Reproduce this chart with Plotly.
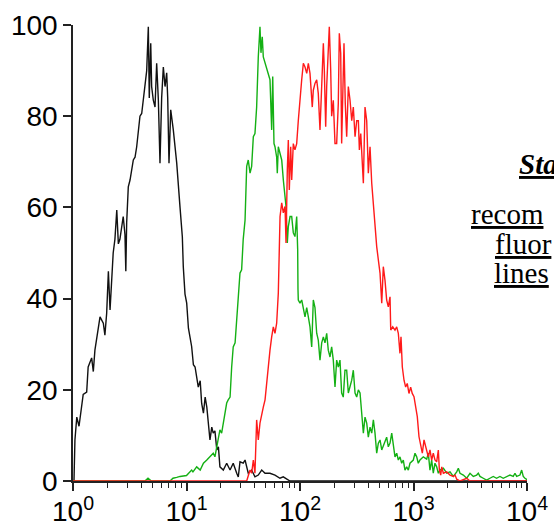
import plotly.graph_objects as go

# ---------------- data ----------------
black_x = [1.0, 1.02, 1.04, 1.08, 1.13, 1.19, 1.23, 1.32, 1.36, 1.46, 1.51, 1.56, 1.62, 1.73, 1.85,
           1.91, 1.98, 2.05, 2.12, 2.19, 2.26, 2.34, 2.43, 2.51, 2.59, 2.77, 2.87, 2.92, 2.97, 3.07,
           3.18, 3.40, 3.52, 3.64, 3.89, 4.03, 4.16, 4.31, 4.46, 4.61, 4.70, 4.84, 4.93, 5.10, 5.28,
           5.46, 5.65, 5.84, 6.04, 6.25, 6.47, 6.69, 6.83, 7.01, 7.26, 7.65, 8.20, 8.77, 9.19, 9.37,
           9.70, 10.04, 10.4, 11.1, 11.5, 11.9, 12.3, 12.7, 13.2, 13.6, 14.1, 14.6, 15.1, 15.6, 16.1,
           16.7, 17.2, 17.8, 18.5, 19.1, 19.7, 21.1, 22.6, 24.2, 25.8, 27.7, 28.6, 29.6, 31.6, 32.8,
           33.9, 35.0, 37.5, 40.1, 42.9, 46.0, 49.2, 54.4, 60.2, 66.6, 71.2, 76.3, 81.6, 10000]
black_y = [0, 0, 9, 14, 12, 17, 19, 19.5, 25, 27, 24, 28.7, 31.6, 36, 34.6,
           32, 36.8, 46, 37.5, 43, 50, 53, 59.4, 52, 53, 58, 54, 46, 56.6, 64.5,
           66, 70.4, 71, 73.3, 80, 80.6, 83.5, 88, 90, 99.6, 84, 96, 86.5, 83.5, 82,
           91.6, 83.5, 69.7, 84, 90.8, 86.5, 89.5, 84, 69.7, 81.4, 77, 69.7, 60, 53.5, 47,
           41, 39, 33.5, 29.5, 25.5, 25, 22.8, 20.6, 22, 17, 14.9, 18.4, 16.2, 11.8, 9,
           11.8, 10.5, 11, 6.8, 7.5, 3.1, 2.4, 3.9, 2.4, 3.9, 1.7, 0.9, 4.2, 3.9, 4.6,
           3.1, 1.7, 2.4, 0.9, 1.3, 2.4, 1.7, 1.7, 1.3, 0.6, 0.9, 0.4, 0, 0]

green_x = [1.0, 4.3, 4.58, 4.9, 7.16, 7.60, 8.20, 8.77, 10.0, 11.1, 11.4, 12.3, 13.2, 14.1, 15.1,
           16.1, 17.2, 17.8, 18.5, 19.1, 19.7, 20.4, 21.1, 22.6, 23.3, 24.2, 25.0, 25.8, 26.8, 27.7,
           28.6, 29.6, 30.6, 31.6, 32.8, 33.9, 35.0, 36.3, 37.5, 38.8, 40.1, 41.5, 42.9, 44.4, 45.3,
           46.5, 47.5, 49.2, 50.9, 52.6, 54.4, 56.3, 57.5, 59.0, 60.2, 62.3, 63.1, 64.4, 66.7, 69.0,
           71.3, 73.8, 75.3, 77.3, 78.9, 81.7, 84.5, 87.3, 90.3, 93.5, 95.4, 96.0, 96.6, 100, 103.5,
           110.7, 114.6, 118.4, 122.5, 126.8, 131, 135.5, 140.3, 144.9, 150, 155.3, 160.6, 166, 171.9, 177.5,
           183.8, 190.1, 196.5, 203.4, 210.4, 217.5, 225, 232.8, 240.6, 249, 257.8, 266.5, 276, 285.6, 295,
           305.5, 316, 326.7, 338, 350, 361.6, 374, 387, 400, 414, 428.5, 443, 458, 474, 490,
           507, 525, 561, 580, 600, 621, 643, 664, 687, 711, 735, 760, 787, 813, 841,
           871, 900, 931, 996, 1031, 1067, 1102, 1141, 1220, 1307, 1350, 1397, 1446, 1494, 1546,
           1600, 1655, 1711, 1832, 1963, 2098, 2244, 2403, 2483, 2569, 2748, 2943, 3147, 3365, 3600,
           3722, 3853, 4120, 4406, 4712, 5043, 5394, 5776, 6180, 6607, 7077, 7568, 7834, 8110, 8670,
           8974, 9270, 9594, 10000]
green_y = [0, 0, 0.6, 0, 0, 0.6, 0.8, 1, 1.2, 2.4, 2, 3.1, 2.4, 3.9, 4.6,
           5.3, 6.1, 5.3, 7.5, 9.6, 11.2, 10.5, 12.7, 17.1, 17.8, 18.4, 25, 29.4, 30.3, 36,
           41.2, 45.6, 46.3, 53, 57.2, 69, 70.4, 67.5, 69, 75.5, 76.2, 82, 93, 99.6, 93.9,
           97.4, 93, 91.6, 90.1, 89.4, 88, 77, 88.7, 74, 73.3, 71, 67.5, 73.3, 71.8, 70.4,
           66, 62.3, 60.2, 52.2, 55.8, 58, 58, 54.4, 53.6, 58, 50.7, 42, 39.7, 39, 39.7,
           36, 38, 36, 33.8, 29.4, 39.7, 38, 32.4, 30.9, 26.5, 30.3, 31.6, 30.3, 32.4, 28.7,
           27.2, 29.4, 26.5, 20.6, 26.5, 25, 26.5, 19.3, 18.4, 24.3, 24.3, 19.3, 20.6, 22.1, 24.3,
           19.3, 18.4, 20, 19.3, 14.9, 10.5, 14, 12.7, 9.6, 11.8, 10.5, 13.4, 10.5, 6.1, 8.3,
           9, 6.8, 9, 9.6, 7.5, 8.3, 10.5, 7.5, 5.3, 6.1, 4.6, 5.3, 3.9, 4.6, 2.4,
           3.1, 2.4, 3.9, 4.6, 6.1, 5.3, 3.9, 4.6, 5.3, 4.8, 6.1, 2.4, 4.6, 1.7, 3.9,
           3.1, 1.7, 2.4, 2.8, 1.7, 2, 1, 2, 2.8, 1.7, 1.3, 0.6, 1.7, 1, 1.3,
           1.7, 1, 0.6, 0.2, 0.6, 1, 0.6, 1, 0.6, 0.9, 1.3, 1, 1.7, 1, 1.3,
           2.4, 1, 0.6, 0.3]

red_x = [1.0, 33.9, 36.3, 37.5, 38.8, 40.1, 41.5, 42.9, 44.4, 46.0, 47.5, 49.2, 50.9, 52.6, 54.4,
         56.3, 58.2, 60.2, 62.3, 64.4, 66.0, 66.7, 69.0, 71.3, 73.8, 75.3, 77.3, 78.9, 80.5, 82.8,
         84.5, 87.3, 90.3, 93.5, 96.6, 100, 103.5, 107, 110.7, 114.6, 118.4, 122.5, 125, 128.3, 131,
         135.5, 140.3, 144.9, 150, 155.3, 160.6, 163.8, 168.4, 171.9, 177.5, 181.2, 186.4, 190.1, 196.5, 203.4,
         210.4, 217.5, 222, 228.4, 232.8, 240.6, 244.1, 250.6, 257.8, 266.5, 276, 285.6, 295, 305.5, 316,
         326.7, 333.5, 343, 350, 361.6, 374, 387, 400, 414, 428.5, 443, 458, 474, 490, 507,
         525, 542, 561, 580, 600, 621, 630, 656, 687, 711, 735, 760, 776, 797, 825,
         853, 881, 912, 944, 975, 1010, 1045, 1080, 1118, 1157, 1196, 1238, 1281, 1323, 1350,
         1397, 1446, 1494, 1546, 1600, 1655, 1690, 1737, 1773, 1832, 1963, 2098, 2244, 2322, 2403,
         2569, 2943, 3147, 10000]
red_y = [0, 0, 2.4, 1.7, 4.6, 1.7, 13.4, 9, 12.7, 14.9, 16.2, 17.8, 22.1, 25.9, 28.7,
         31.6, 33.8, 32.4, 34.6, 41.2, 50, 58, 61, 58.8, 60.2, 52.2, 68.2, 74.8, 63.8, 73.3,
         66, 74, 72.6, 74, 79, 84.3, 88, 91.6, 90.8, 89.4, 91.6, 89.4, 85.7, 82, 85.7,
         87.2, 88, 85, 77, 86.5, 96, 90.1, 77.7, 86.5, 95.2, 99.6, 90.1, 80, 83.5, 74,
         74, 82.8, 98.2, 93.8, 74, 89.4, 96, 82.8, 75.5, 86.5, 83.5, 79, 82, 75.5, 79,
         79, 72.6, 76.2, 71.1, 65.3, 82, 79, 67.5, 73.3, 65.3, 60.2, 57.2, 51.4, 48.5, 45.6,
         39, 47, 44, 39.7, 38.2, 40.4, 33.1, 33.8, 33.1, 33.8, 32.4, 28, 31.6, 25, 22.1,
         20.6, 21.4, 19.2, 20.6, 19.2, 18.5, 15.6, 14.1, 9.7, 7.5, 6.1, 9, 7.5, 6.1, 5.3,
         6.8, 4.6, 6.1, 4.6, 4.2, 6.8, 2.4, 1.3, 3.1, 1.7, 2, 1.3, 1, 1.3, 0.4,
         0, 0.6, 0, 0]

x_tick_values = [1, 10, 100, 1000, 10000]
x_tick_labels = ["10<sup>0</sup>", "10<sup>1</sup>", "10<sup>2</sup>", "10<sup>3</sup>", "10<sup>4</sup>"]
x_minor_values = [m * d for d in (1, 10, 100, 1000) for m in range(2, 10)]
y_tick_values = [0, 20, 40, 60, 80, 100]

side_text = ["<b><i><u>Sta</u></i></b>", "<u>recom</u>", "<u>fluor</u>", "<u>lines</u>"]

assert len(black_x) == len(black_y)
assert len(green_x) == len(green_y)
assert len(red_x) == len(red_y)

# ---------------- figure ----------------
fig = go.Figure()
fig.add_trace(go.Scatter(x=black_x, y=black_y, mode="lines",
                         line=dict(color="#111111", width=1.4), showlegend=False))
fig.add_trace(go.Scatter(x=green_x, y=green_y, mode="lines",
                         line=dict(color="#14b014", width=1.4), showlegend=False))
fig.add_trace(go.Scatter(x=red_x, y=red_y, mode="lines",
                         line=dict(color="#ff1a1a", width=1.4), showlegend=False))

W, H = 554, 530
L, R, T, B = 73, 27, 25, 49

fig.update_layout(
    template="none",
    width=W, height=H, autosize=False,
    margin=dict(l=L, r=R, t=T, b=B, pad=0),
    paper_bgcolor="white", plot_bgcolor="white",
    font=dict(family="Liberation Sans, Arial, sans-serif", size=28, color="black"),
    xaxis=dict(
        type="log", range=[0, 4], showgrid=False, zeroline=False, automargin=False,
        showline=True, linecolor="#222222", linewidth=1.5, layer="below traces",
        ticks="outside", ticklen=8, tickwidth=1.5, tickcolor="#222222",
        tickmode="array", tickvals=x_tick_values, ticktext=x_tick_labels,
        tickfont=dict(size=28, color="black"), ticklabelstandoff=-3,
        minor=dict(tickmode="array", tickvals=x_minor_values, ticks="outside",
                   ticklen=5, tickwidth=1.2, tickcolor="#222222", showgrid=False),
    ),
    yaxis=dict(
        range=[0, 100], showgrid=False, zeroline=False, automargin=False,
        showline=True, linecolor="#222222", linewidth=1.5, layer="below traces",
        ticks="outside", ticklen=8, tickwidth=1.5, tickcolor="#222222",
        tickmode="array", tickvals=y_tick_values,
        tickfont=dict(size=28, color="black"),
    ),
)

pw = W - L - R
ph = H - T - B
side_pos = [(518, 164), (470, 214), (494, 244), (493, 273)]
for txt, (px, py) in zip(side_text, side_pos):
    fig.add_annotation(
        text=txt, xref="paper", yref="paper",
        x=(px - L) / pw, y=(H - B - py) / ph,
        xanchor="left", yanchor="middle", showarrow=False,
        font=dict(family="Liberation Serif, Times New Roman, serif", size=29, color="black"),
        borderpad=0,
    )

fig.write_html("out.html", config={"displayModeBar": False},
               post_script="document.body.style.margin='0';document.body.style.overflow='hidden';")
